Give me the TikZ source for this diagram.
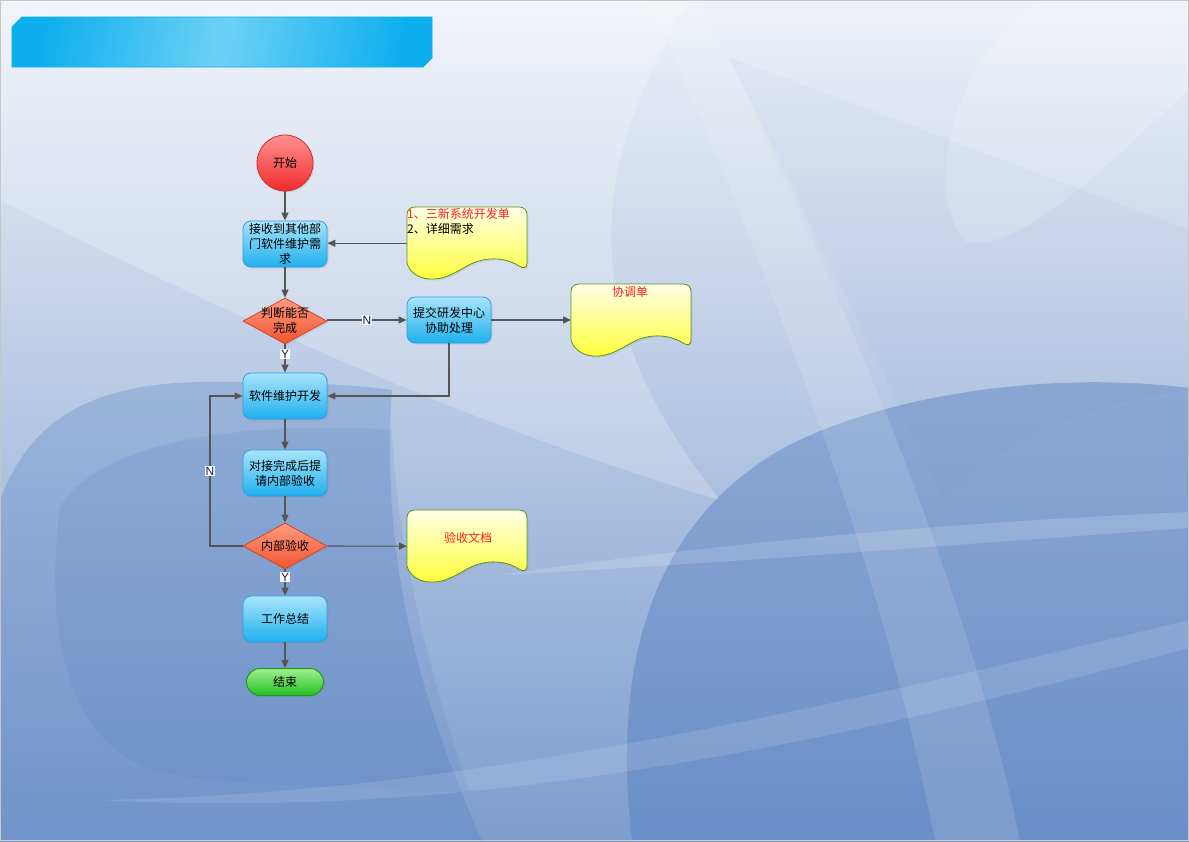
\documentclass[tikz,border=0pt]{standalone}
\usepackage{fontspec}
\setmainfont{Liberation Sans}
\newfontfamily\cjk{Noto Sans CJK SC}
\usetikzlibrary{shapes.geometric,arrows.meta,shadows}
\definecolor{bgtop}{HTML}{EEF1F7}
\definecolor{bgmid}{HTML}{C3CFE5}
\definecolor{bgbot}{HTML}{7D9DCF}
\definecolor{bgdark}{HTML}{4E7BBE}
\definecolor{titleA}{HTML}{0CAEEE}
\definecolor{titleB}{HTML}{6DD1F6}
\definecolor{procborder}{HTML}{2F9BE6}
\definecolor{proctop}{HTML}{A8E4FB}
\definecolor{procbot}{HTML}{1EB0EE}
\definecolor{decborder}{HTML}{D4452A}
\definecolor{dectop}{HTML}{FF9A80}
\definecolor{decbot}{HTML}{F0552E}
\definecolor{startborder}{HTML}{D42A2A}
\definecolor{starttop}{HTML}{FF9090}
\definecolor{startbot}{HTML}{F02C2C}
\definecolor{endborder}{HTML}{1E9A1E}
\definecolor{endtop}{HTML}{A0F090}
\definecolor{endbot}{HTML}{22C022}
\definecolor{docborder}{HTML}{4E9A18}
\definecolor{doctop}{HTML}{FFFFE6}
\definecolor{docbot}{HTML}{FFFF3A}
\definecolor{arrowgray}{HTML}{555555}
\definecolor{labtext}{HTML}{1A1A5A}
\definecolor{redtext}{HTML}{FF2020}
\tikzset{
  proc/.style={rectangle, rounded corners=8pt, minimum width=84pt, minimum height=46pt,
    draw=procborder, line width=0.8pt, top color=proctop, bottom color=procbot,
    font=\cjk\fontsize{12}{15}\selectfont, align=center, inner sep=1pt,
    drop shadow={opacity=0.2, shadow xshift=1.5pt, shadow yshift=-1.5pt}},
  dec/.style={diamond, aspect=1.826, minimum width=84pt, minimum height=46pt, inner sep=0pt,
    draw=decborder, line width=0.8pt, top color=dectop, bottom color=decbot,
    drop shadow={opacity=0.2, shadow xshift=1.5pt, shadow yshift=-1.5pt}},
  dectext/.style={font=\cjk\fontsize{12}{15}\selectfont, align=center, inner sep=0pt},
  docshape/.style={draw=docborder, line width=0.8pt, top color=doctop, bottom color=docbot},
  docbox/.style={rectangle, minimum width=120pt, minimum height=72pt, inner sep=0pt, anchor=north west},
  doctext/.style={inner sep=0pt, text=redtext, font=\cjk\fontsize{12}{15}\selectfont},
  arr/.style={draw=arrowgray, line width=1.1pt, -{Triangle[length=8pt,width=7pt]}},
  lab/.style={fill=white, inner sep=1pt, text=labtext, font=\fontsize{12}{13}\selectfont},
  pics/docpic/.style={code={
    \path[docshape, drop shadow={opacity=0.15, shadow xshift=1.5pt, shadow yshift=-1.5pt}]
      (0,8) .. controls (0,3) and (3,0) .. (8,0) -- (112,0)
      .. controls (117,0) and (120,3) .. (120,8) -- (120,56)
      .. controls (120,61) and (116,62) .. (112,59)
      .. controls (96,49) and (76,50) .. (60,59)
      .. controls (46,67) and (36,73) .. (22,72)
      .. controls (10,71) and (2,64) .. (0,56) -- cycle;
  }}
}
\begin{document}
\begin{tikzpicture}[x=1pt,y=-1pt]
\useasboundingbox (0,0) rectangle (1189,841);
% background
\shade[top color=bgtop, middle color=bgmid, bottom color=bgbot] (0,0) rectangle (1189,841);
% light top-left swoosh
\fill[white, opacity=0.22] (0,0) -- (690,0) .. controls (600,150) and (560,300) .. (720,500)
  .. controls (450,420) and (200,300) .. (0,200) -- cycle;
% leaf shape upper right
\fill[white, opacity=0.18] (968,243) .. controls (920,200) and (950,60) .. (1040,0) -- (1189,0) -- (1189,90)
  .. controls (1120,150) and (1030,250) .. (968,243) -- cycle;
% subtle tone wedge upper right
\fill[bgdark, opacity=0.04] (729,57) -- (1189,230) -- (1189,390) .. controls (1100,400) and (1000,440) .. (945,500) -- cycle;
% left lower dark region
\fill[bgdark, opacity=0.28] (0,500) .. controls (30,420) and (90,384) .. (200,382)
  .. controls (280,381) and (350,384) .. (392,390)
  .. controls (380,560) and (420,700) .. (482,841) -- (0,841) -- cycle;
% inner darker rounded region
\fill[bgdark, opacity=0.14] (60,507) .. controls (45,620) and (60,760) .. (180,776)
  .. controls (300,790) and (420,790) .. (470,792)
  .. controls (420,650) and (395,520) .. (392,430)
  .. controls (250,420) and (100,440) .. (60,507) -- cycle;
% right lower dark region
\fill[bgdark, opacity=0.42] (632,841) .. controls (610,650) and (660,520) .. (780,450)
  .. controls (880,395) and (1050,370) .. (1189,388) -- (1189,841) -- cycle;
% light streaks (tapered)
\fill[white, opacity=0.16] (500,575) .. controls (700,545) and (950,522) .. (1189,512)
  -- (1189,528) .. controls (950,545) and (700,565) .. (500,575) -- cycle;
\fill[white, opacity=0.12] (100,800) .. controls (400,795) and (700,740) .. (1189,620)
  -- (1189,648) .. controls (700,780) and (400,815) .. (100,800) -- cycle;
% light vertical band
\fill[white, opacity=0.12] (700,0) .. controls (820,250) and (960,550) .. (1020,841) -- (935,841)
  .. controls (880,560) and (780,300) .. (650,0) -- cycle;
\draw[gray!45, line width=0.8pt] (0.4,0.4) rectangle (1188.6,840.6);
% title bar
\shade[left color=titleA, right color=titleA, middle color=titleB, shading angle=80]
  (12,27) -- (22,17) -- (432,17) -- (432,58) -- (423,67) -- (12,67) -- cycle;
\draw[titleA, line width=0.8pt] (12,27) -- (22,17) -- (432,17) -- (432,58) -- (423,67) -- (12,67) -- cycle;
% nodes
\node[circle, minimum size=56pt, inner sep=0pt, draw=startborder, line width=0.8pt,
  top color=starttop, bottom color=startbot, font=\cjk\fontsize{12}{15}\selectfont,
  drop shadow={opacity=0.2, shadow xshift=1.5pt, shadow yshift=-1.5pt}] (start) at (285,163) {开始};
\node[proc] (recv) at (285,244) {接收到其他部\\门软件维护需\\求};
\node[dec] (dec1) at (285,321) {};
\node[dectext] (dec1t) at (285,320) {判断能否\\完成};
\node[proc] (sub) at (449,320) {提交研发中心\\协助处理};
\node[proc] (dev) at (285,396) {软件维护开发};
\node[proc] (acc) at (285,473) {对接完成后提\\请内部验收};
\node[dec] (dec2) at (285,546) {};
\node[dectext] (dec2t) at (dec2) {内部验收};
\node[proc] (sum) at (285,619) {工作总结};
\node[rectangle, rounded corners=13.5pt, minimum width=77pt, minimum height=27pt, inner sep=0pt,
  draw=endborder, line width=1pt, top color=endtop, bottom color=endbot,
  font=\cjk\fontsize{12}{15}\selectfont,
  drop shadow={opacity=0.2, shadow xshift=1.5pt, shadow yshift=-1.5pt}] (end) at (285,682) {结束};
% documents
\pic at (407,207) {docpic};
\node[docbox] (doc1) at (407,207) {};
\node[anchor=north west, inner sep=0pt, align=left, font=\cjk\fontsize{12}{15}\selectfont] (doc1t) at (407,208)
  {\textcolor{redtext}{1、三新系统开发单}\\2、详细需求};
\pic at (571,284) {docpic};
\node[docbox] (doc2) at (571,284) {};
\node[doctext] (doc2t) at (630,292) {协调单};
\pic at (407,510) {docpic};
\node[docbox] (doc3) at (407,510) {};
\node[doctext] (doc3t) at (468,538) {验收文档};
% connectors
\draw[arr] (start) -- (recv);
\draw[arr] (doc1.west) -- (doc1.west -| recv.east);
\draw[arr] (recv) -- (dec1);
\draw[arr] (dec1.east |- sub.west) -- node[lab]{N} (sub.west);
\draw[arr] (dec1.south) -- node[lab, pos=0.35]{Y} (dev.north);
\draw[arr] (sub.east) -- (sub.east -| doc2.west);
\draw[arr] (sub.south) |- (dev.east);
\draw[arr] (dev) -- (acc);
\draw[arr] (acc) -- (dec2);
\coordinate (loopc) at (210,546);
\draw[arr] (dec2.west) -- (loopc) |- node[lab, pos=0.25]{N} (dev.west);
\draw[arr] (dec2.east) -- (doc3.west);
\draw[arr] (dec2.south) -- node[lab, pos=0.3]{Y} (sum.north);
\draw[arr] (sum) -- (end);
\end{tikzpicture}
\end{document}
